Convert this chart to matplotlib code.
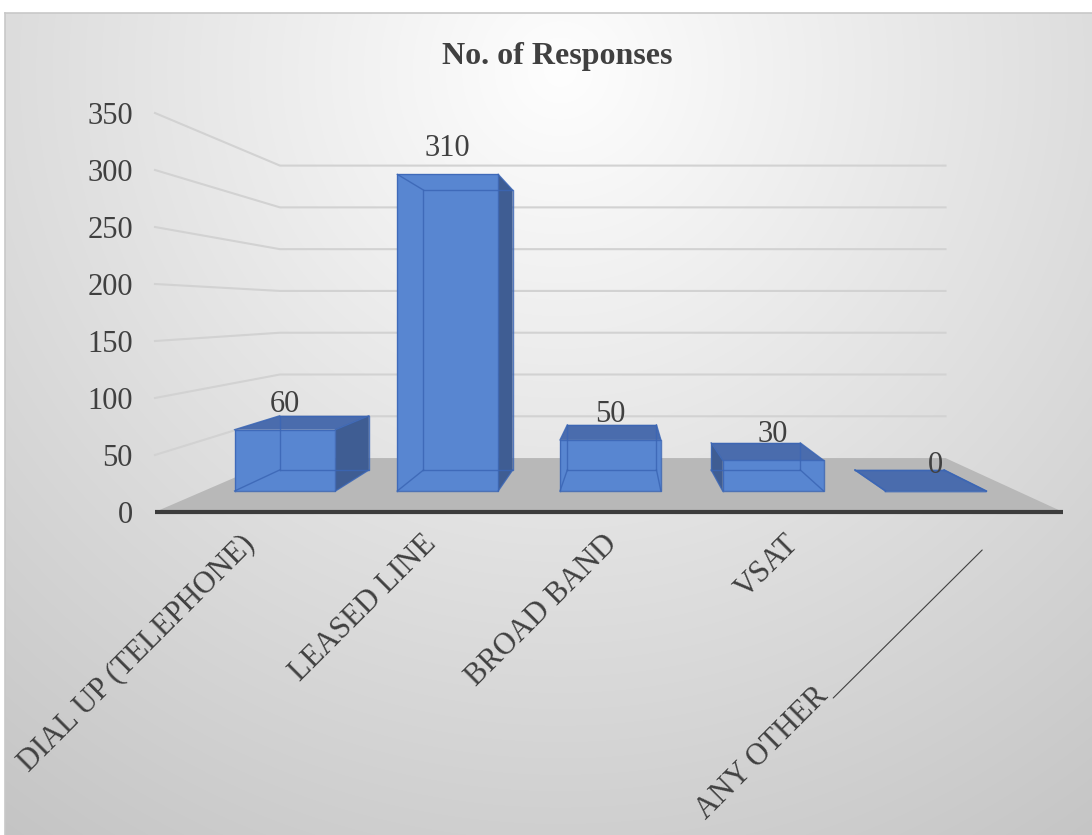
import numpy as np
import matplotlib.pyplot as plt
from matplotlib.patches import Polygon
from matplotlib.transforms import offset_copy

# data
categories = ['DIAL UP (TELEPHONE)', 'LEASED LINE', 'BROAD BAND', 'VSAT', 'ANY OTHER']
responses = [60, 310, 50, 30, 0]
y_ticks = [0, 50, 100, 150, 200, 250, 300, 350]
title = 'No. of Responses'

W, H = 1092, 835
FONT = 'Liberation Serif'
TXT = '#404040'

# fake 3D: points are pulled toward a vanishing point (in data units)
VX, VY = 2.577, 177.2
F_BAR_FRONT, F_BAR_BACK, F_WALL = 0.896, 0.792, 0.733
HALF_W = 0.31


def proj(x, v, f):
    return (VX + f * (x - VX), VY + f * (v - VY))


fig = plt.figure(figsize=(W / 100, H / 100), dpi=100)
fig.patch.set_facecolor('white')

# radial grey gradient background of the chart area
bg = fig.add_axes([5 / W, 0, (W - 5) / W, (H - 13) / H])
gx, gy = np.meshgrid(np.arange(5, W), np.arange(13, H))
r = np.hypot(gx - 560, gy - 70)
c = (254 - 58 * np.clip(r / 950, 0, 1)) / 255
bg.imshow(np.dstack([c, c, c]), aspect='auto', interpolation='bilinear')
bg.set_xticks([])
bg.set_yticks([])
for s in ['right', 'bottom']:
    bg.spines[s].set_visible(False)
for s in ['top', 'left']:
    bg.spines[s].set_color('#c8c8c8')
    bg.spines[s].set_linewidth(1.2)

# plotting axes: front plane, x in categories, y in values
ax = fig.add_axes([155 / W, (H - 512) / H, 908 / W, 399 / H])
ax.set_xlim(0, len(categories))
ax.set_ylim(0, 350)
ax.patch.set_alpha(0)
for s in ax.spines.values():
    s.set_visible(False)

# gridlines on side wall and back wall
for v in y_ticks[1:]:
    p0 = proj(0, v, 1.0)
    p1 = proj(0, v, F_WALL)
    p2 = proj(len(categories), v, F_WALL)
    ax.plot([p0[0], p1[0], p2[0]], [p0[1], p1[1], p2[1]], color='#d2d2d2',
            lw=1.5, zorder=1, clip_on=False)

# floor
floor = [proj(0, 0, 1.0), proj(len(categories), 0, 1.0),
         proj(len(categories), 0, F_WALL), proj(0, 0, F_WALL)]
ax.add_patch(Polygon(floor, closed=True, facecolor='#b8b8b8', edgecolor='none',
                     zorder=2, clip_on=False))
ax.plot([0, len(categories)], [0, 0], color='#3c3c3c', lw=3, zorder=3,
        solid_capstyle='butt', clip_on=False)

# bars
c_front, c_top, c_side, c_edge = '#5886d1', '#4a6cad', '#3f5d93', '#3b66b5'
for i, v in enumerate(responses):
    x0, x1 = i + 0.5 - HALF_W, i + 0.5 + HALF_W
    F = lambda x, y: proj(x, y, F_BAR_FRONT)
    B = lambda x, y: proj(x, y, F_BAR_BACK)
    faces = []
    if x1 < VX:
        faces.append(([F(x1, 0), B(x1, 0), B(x1, v), F(x1, v)], c_side))
    if x0 > VX:
        faces.append(([F(x0, 0), B(x0, 0), B(x0, v), F(x0, v)], c_side))
    if v < VY:
        faces.append(([F(x0, v), F(x1, v), B(x1, v), B(x0, v)], c_top))
    if v > 0:
        faces.append(([F(x0, 0), F(x1, 0), F(x1, v), F(x0, v)], c_front))
    for pts, col in faces:
        ax.add_patch(Polygon(pts, closed=True, facecolor=col, edgecolor='none',
                             zorder=4, clip_on=False))
    # all box edges (hidden ones show through like the translucent original)
    edges = []
    for P in (F, B):
        edges.append([P(x0, 0), P(x1, 0), P(x1, v), P(x0, v), P(x0, 0)])
    for x in (x0, x1):
        for y in (0, v):
            edges.append([F(x, y), B(x, y)])
    for e in edges:
        ex, ey = zip(*e)
        ax.plot(ex, ey, color=c_edge, lw=1.0, alpha=0.85, zorder=5, clip_on=False)
    # value label
    ax.annotate(str(v), xy=F(i + 0.5, v), xytext=(0, 18), textcoords='offset pixels',
                ha='center', va='baseline', fontsize=22, family=FONT, color=TXT,
                zorder=6)

# y tick labels
ax.set_yticks(y_ticks)
ax.set_yticklabels([str(t) for t in y_ticks], fontsize=22, family=FONT, color=TXT)
ax.tick_params(axis='y', length=0, pad=16)
ax.set_xticks([])

# category labels
for i, lab in enumerate(categories[:-1]):
    ax.annotate(lab, xy=(i + 0.5, 0), xytext=(4, -28), textcoords='offset pixels',
                rotation=45, ha='right', va='center', rotation_mode='anchor',
                fontsize=22, family=FONT, color=TXT, annotation_clip=False)

# last label was dragged down, with a leader line
last = len(categories) - 0.5
leader_top = offset_copy(ax.transData, fig=fig, x=10, y=-38, units='dots')
ax.annotate('', xy=(last, 0), xycoords=leader_top, xytext=(-149, -148),
            textcoords='offset pixels',
            arrowprops=dict(arrowstyle='-', color='#404040', lw=0.8,
                            shrinkA=0, shrinkB=0), annotation_clip=False)
ax.annotate(categories[-1], xy=(last, 0), xytext=(-148, -180), textcoords='offset pixels',
            rotation=45, ha='right', va='center', rotation_mode='anchor',
            fontsize=22, family=FONT, color=TXT, annotation_clip=False)

fig.text(557 / W, 1 - 64 / H, title, ha='center', va='baseline', fontsize=23,
         fontweight='bold', family=FONT, color=TXT)

fig.savefig('out.png', dpi=100)
